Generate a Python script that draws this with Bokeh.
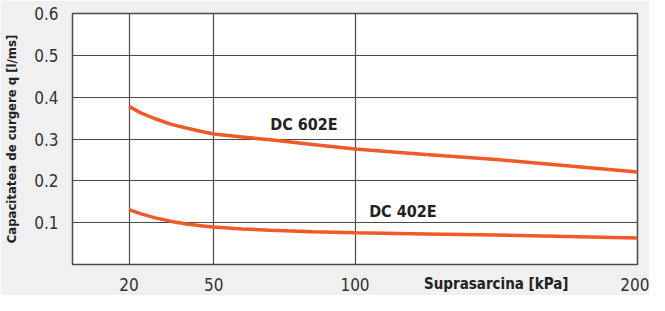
from bokeh.plotting import figure
from bokeh.models import Range1d, FixedTicker, Label, LinearAxis
from bokeh.embed import file_html
from bokeh.resources import INLINE

pressure = [20, 24, 29, 35, 41, 47, 50, 60, 70, 85, 100, 125, 150, 175, 200]
dc602e = [0.378, 0.363, 0.349, 0.335, 0.325, 0.316, 0.312, 0.305, 0.298, 0.287, 0.276, 0.263, 0.251, 0.236, 0.221]
dc402e = [0.131, 0.1215, 0.112, 0.103, 0.0963, 0.0917, 0.0894, 0.085, 0.082, 0.0785, 0.0757, 0.073, 0.0703, 0.067, 0.0634]
x_ticks = [20, 50, 100, 200]
y_ticks = [0.1, 0.2, 0.3, 0.4, 0.5, 0.6]
x_title = "Suprasarcina [kPa]"
x_title_at = 150

FONT = "'DejaVu Sans Condensed', Roboto, sans-serif"
ORANGE = "#f05a28"
GRID = "#4a4a4a"
TEXT = "#333333"

p = figure(width=649, height=295, output_backend="svg", toolbar_location=None,
           x_range=Range1d(0, 200), y_range=Range1d(0, 0.6),
           min_border_left=72, min_border_right=12, min_border_top=13, min_border_bottom=20)
p.background_fill_color = "white"
p.border_fill_color = "#f0f0f0"
p.outline_line_color = GRID
p.outline_line_width = 1.5

p.xaxis.ticker = FixedTicker(ticks=x_ticks)
p.yaxis.ticker = FixedTicker(ticks=y_ticks)
for ax in (p.xaxis, p.yaxis):
    ax.axis_line_color = None
    ax.major_tick_line_color = None
    ax.minor_tick_line_color = None
    ax.major_label_text_font = FONT
    ax.major_label_text_font_size = "17px"
    ax.major_label_text_color = TEXT
p.xaxis.major_label_standoff = 7
p.yaxis.major_label_standoff = 8
p.yaxis.axis_label = "Capacitatea de curgere q [l/ms]"
p.yaxis.axis_label_text_font = FONT
p.yaxis.axis_label_text_font_style = "bold"
p.yaxis.axis_label_text_font_size = "13px"
p.yaxis.axis_label_text_color = "#222222"
p.yaxis.axis_label_standoff = 12

title_axis = LinearAxis(ticker=FixedTicker(ticks=[x_title_at]),
                        major_label_overrides={x_title_at: x_title})
title_axis.axis_line_color = None
title_axis.major_tick_line_color = None
title_axis.minor_tick_line_color = None
title_axis.major_label_text_font = FONT
title_axis.major_label_text_font_style = "bold"
title_axis.major_label_text_font_size = "15px"
title_axis.major_label_text_color = "#222222"
title_axis.major_label_standoff = -25
p.add_layout(title_axis, "below")

p.xgrid.ticker = FixedTicker(ticks=x_ticks)
p.ygrid.ticker = FixedTicker(ticks=y_ticks)
p.grid.grid_line_color = GRID
p.grid.grid_line_width = 1.2

p.line(pressure, dc602e, line_color=ORANGE, line_width=3.5)
p.line(pressure, dc402e, line_color=ORANGE, line_width=3.5)

p.add_layout(Label(x=70, y=0.335, text="DC 602E", text_font=FONT, text_font_style="bold",
                   text_font_size="16px", text_color="#222222", text_baseline="middle"))
p.add_layout(Label(x=105, y=0.127, text="DC 402E", text_font=FONT, text_font_style="bold",
                   text_font_size="16px", text_color="#222222", text_baseline="middle"))

open("out.html", "w").write(file_html(p, INLINE))
